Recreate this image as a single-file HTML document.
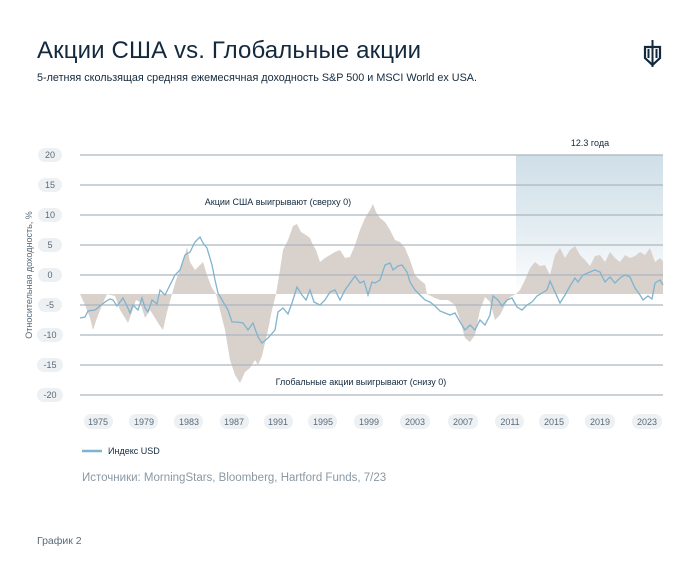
<!DOCTYPE html>
<html><head><meta charset="utf-8"><style>
body{margin:0;background:#fff;width:700px;height:580px;overflow:hidden;font-family:"Liberation Sans",sans-serif;}
</style></head><body>
<svg width="700" height="580" xmlns="http://www.w3.org/2000/svg" style="position:absolute;left:0;top:0;font-family:'Liberation Sans',sans-serif">
<defs>
<linearGradient id="g" x1="0" y1="0" x2="0" y2="1">
<stop offset="0" stop-color="#cfdfe8"/><stop offset="0.5" stop-color="#cfdfe8" stop-opacity="0.6"/><stop offset="1" stop-color="#cfdfe8" stop-opacity="0"/>
</linearGradient>
</defs>
<text x="37" y="58" font-size="24" fill="#13293d" textLength="384">Акции США vs. Глобальные акции</text>
<text x="37" y="81" font-size="10.8" fill="#13293d" textLength="440">5-летняя скользящая средняя ежемесячная доходность S&amp;P 500 и MSCI World ex USA.</text>
<g fill="#13293d">
<rect x="651.5" y="40" width="2" height="27"/>
<path d="M645 47h15v11l-7.5 7l-7.5-7z" fill="none" stroke="#13293d" stroke-width="2.2"/>
<rect x="647.5" y="49" width="2" height="9"/><rect x="655.5" y="49" width="2" height="9"/>
</g>
<rect x="516" y="155" width="147" height="140" fill="url(#g)"/>
<text x="590" y="146" font-size="9" fill="#13293d" text-anchor="middle">12.3 года</text>
<path fill="#d9d1cc" d="M80,294 L85,305 L90,318 L93,330 L97,318 L102,305 L107,294 L115,296 L120,310 L125,318 L128,323 L132,312 L136,300 L140,302 L145,318 L150,310 L155,318 L160,326 L163,330 L167,312 L172,294 L176,280 L180,270 L184,258 L187,247 L190,262 L195,270 L200,265 L203,262 L207,275 L212,288 L216,294 L220,310 L225,330 L230,360 L235,375 L240,383 L245,372 L250,368 L255,360 L258,365 L262,356 L268,330 L272,310 L276,294 L280,270 L283,250 L288,240 L293,226 L297,224 L301,232 L306,235 L310,238 L313,245 L316,250 L320,262 L325,258 L330,255 L335,252 L340,250 L345,258 L350,257 L355,245 L360,230 L365,218 L370,210 L373,204 L376,212 L380,218 L385,222 L390,230 L395,240 L400,242 L405,248 L410,260 L415,275 L420,280 L425,284 L427,294 L435,298 L440,300 L448,300 L455,305 L460,320 L465,338 L470,342 L475,335 L480,310 L485,297 L490,302 L495,320 L500,315 L505,305 L510,297 L516,294 L520,290 L525,280 L530,268 L535,262 L540,266 L545,265 L550,275 L555,255 L560,248 L565,258 L570,250 L575,246 L580,255 L585,260 L590,266 L595,256 L600,255 L605,262 L610,252 L615,258 L620,262 L625,255 L630,258 L635,256 L640,252 L645,255 L650,248 L655,262 L660,258 L663,261 L663,294 Z"/>
<g stroke="#aab7c0" stroke-width="1.2">
<line x1="80" x2="663" y1="155" y2="155"/><line x1="80" x2="663" y1="185" y2="185"/>
<line x1="80" x2="663" y1="215" y2="215"/><line x1="80" x2="663" y1="245" y2="245"/>
<line x1="80" x2="663" y1="275" y2="275"/><line x1="80" x2="663" y1="305" y2="305"/>
<line x1="80" x2="663" y1="335" y2="335"/><line x1="80" x2="663" y1="365" y2="365"/>
<line x1="80" x2="663" y1="395" y2="395"/>
</g>
<polyline fill="none" stroke="#7fb3cf" stroke-width="1.3" points="80,318 85,317 88,311 95,310 100,306 105,302 110,299 113,300 117,306 123,298 127,306 130,313 133,305 138,310 142,298 145,308 148,312 152,300 157,304 160,290 165,295 170,285 175,275 180,270 185,255 190,252 195,242 200,237 203,243 207,248 212,265 215,280 218,293 222,300 228,310 232,322 237,322 243,323 248,330 253,323 258,337 262,343 268,338 275,330 278,312 283,308 288,314 292,303 297,287 302,295 306,300 310,290 314,302 320,305 325,300 330,292 335,290 340,300 345,290 350,283 355,276 360,283 364,281 368,295 372,282 375,283 380,280 385,265 390,263 393,270 398,266 402,265 407,272 410,282 415,290 420,295 425,300 430,302 435,306 440,311 445,313 450,315 455,313 460,322 465,330 470,325 475,330 480,320 485,325 490,315 493,296 498,300 502,306 507,300 512,298 517,307 522,310 527,305 532,302 537,296 542,293 547,290 550,281 555,292 560,303 565,295 570,286 575,278 578,282 583,275 590,272 595,270 600,272 605,282 610,277 615,283 620,278 625,275 630,277 635,288 640,295 643,300 648,296 652,299 655,283 660,280 663,285"/>
<text x="278" y="205" font-size="9" fill="#13293d" text-anchor="middle">Акции США выигрывают (сверху 0)</text>
<text x="361" y="385" font-size="9" fill="#13293d" text-anchor="middle">Глобальные акции выигрывают (снизу 0)</text>
<g font-size="9" fill="#5a6a78" text-anchor="middle">
<g fill="#eef1f3">
<rect x="38" y="148" width="24" height="14" rx="7"/><rect x="38" y="178" width="24" height="14" rx="7"/>
<rect x="38" y="208" width="24" height="14" rx="7"/><rect x="38" y="238" width="24" height="14" rx="7"/>
<rect x="38" y="268" width="24" height="14" rx="7"/><rect x="38" y="298" width="24" height="14" rx="7"/>
<rect x="37" y="328" width="26" height="14" rx="7"/><rect x="37" y="358" width="26" height="14" rx="7"/>
<rect x="37" y="388" width="26" height="14" rx="7"/>
</g>
<text x="50" y="158">20</text><text x="50" y="188">15</text><text x="50" y="218">10</text>
<text x="50" y="248">5</text><text x="50" y="278">0</text><text x="50" y="308">-5</text>
<text x="50" y="338">-10</text><text x="50" y="368">-15</text><text x="50" y="398">-20</text>
<g fill="#eef1f3">
<rect x="84" y="414" width="29" height="15" rx="7"/><rect x="129" y="414" width="29" height="15" rx="7"/>
<rect x="174" y="414" width="29" height="15" rx="7"/><rect x="220" y="414" width="29" height="15" rx="7"/>
<rect x="264" y="414" width="29" height="15" rx="7"/><rect x="308" y="414" width="29" height="15" rx="7"/>
<rect x="354" y="414" width="29" height="15" rx="7"/><rect x="400" y="414" width="30" height="15" rx="7"/>
<rect x="448" y="414" width="30" height="15" rx="7"/><rect x="495" y="414" width="29" height="15" rx="7"/>
<rect x="539" y="414" width="30" height="15" rx="7"/><rect x="585" y="414" width="30" height="15" rx="7"/>
<rect x="632" y="414" width="30" height="15" rx="7"/>
</g>
<text x="98" y="425">1975</text><text x="144" y="425">1979</text><text x="189" y="425">1983</text>
<text x="234" y="425">1987</text><text x="278" y="425">1991</text><text x="323" y="425">1995</text>
<text x="369" y="425">1999</text><text x="415" y="425">2003</text><text x="463" y="425">2007</text>
<text x="510" y="425">2011</text><text x="554" y="425">2015</text><text x="600" y="425">2019</text>
<text x="647" y="425">2023</text>
</g>
<text transform="translate(32,275) rotate(-90)" font-size="9" fill="#5a6a78" text-anchor="middle">Относительная доходность, %</text>
<line x1="82" x2="102" y1="451" y2="451" stroke="#7fb3cf" stroke-width="2.5"/>
<text x="108" y="454" font-size="9" fill="#13293d">Индекс USD</text>
<text x="82" y="481" font-size="11.5" fill="#8a98a3">Источники: MorningStars, Bloomberg, Hartford Funds, 7/23</text>
<text x="37" y="544" font-size="10.5" fill="#5a6a78">График 2</text>
</svg>
</body></html>
